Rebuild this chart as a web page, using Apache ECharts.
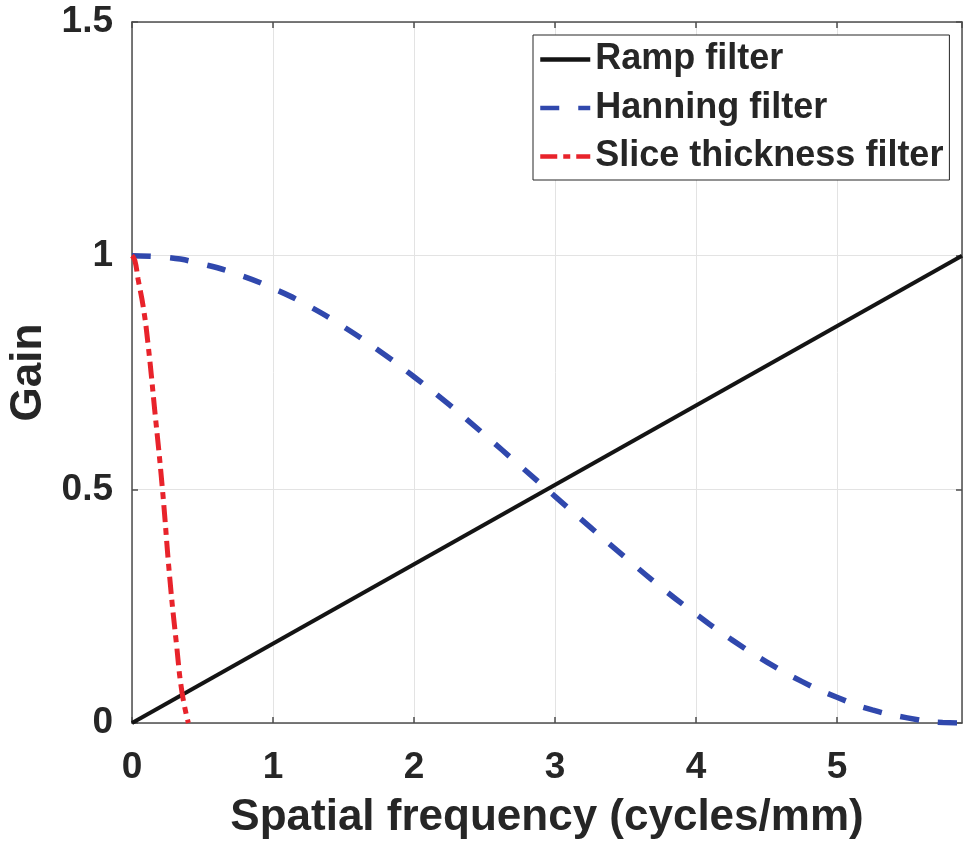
<!DOCTYPE html>
<html>
<head>
<meta charset="utf-8">
<script src="https://cdn.jsdelivr.net/npm/echarts@6/dist/echarts.min.js"></script>
<style>html,body{margin:0;padding:0;background:#fff}#c{width:964px;height:841px}</style>
</head>
<body>
<div id="c"></div>
<script>
// ---- data ----
const seriesNames = ['Ramp filter', 'Hanning filter', 'Slice thickness filter'];
const xMax = 5.887;
const xTicks = [0, 1, 2, 3, 4, 5];
const yTicks = [0, 0.5, 1, 1.5];

const rampX = [0, 5.887];
const rampY = [0, 1];

const hanningX = [0, 0.25, 0.5, 0.75, 1, 1.25, 1.5, 1.75, 2, 2.25, 2.5, 2.75, 3, 3.25, 3.5, 3.75, 4, 4.25, 4.5, 4.75, 5, 5.25, 5.5, 5.75, 5.887];
const hanningY = [1, 0.996, 0.982, 0.96, 0.93, 0.893, 0.848, 0.797, 0.741, 0.681, 0.617, 0.551, 0.485, 0.419, 0.354, 0.291, 0.233, 0.179, 0.131, 0.089, 0.055, 0.028, 0.011, 0.001, 0];

const sliceX = [0, 0.02, 0.043, 0.08, 0.114, 0.161, 0.216, 0.268, 0.315, 0.355, 0.40];
const sliceY = [1, 0.99, 0.95, 0.89, 0.81, 0.67, 0.5, 0.31, 0.17, 0.065, 0];

const pairs = (xs, ys) => xs.map((x, i) => [x, ys[i]]);

const FONT = "'Liberation Sans', Arial, sans-serif";
const TXT = '#262626';
const AX = '#4d4d4d';

const chart = echarts.init(document.getElementById('c'), null, {renderer: 'canvas'});
chart.setOption({
  animation: false,
  backgroundColor: '#fff',
  textStyle: {fontFamily: FONT},
  grid: {left: 132, top: 22, right: 2, bottom: 118, containLabel: false, outerBoundsMode: 'none'},
  legend: {
    orient: 'vertical',
    left: 533, top: 35,
    data: seriesNames,
    itemWidth: 50, itemHeight: 14, itemGap: 7.5,
    padding: [4, 6, 3, 5],
    backgroundColor: '#fff',
    borderColor: '#262626', borderWidth: 1,
    itemStyle: {opacity: 0},
    lineStyle: {width: 4.5},
    textStyle: {fontFamily: FONT, fontWeight: 'bold', fontSize: 36, color: TXT, lineHeight: 41}
  },
  xAxis: [{
    type: 'value', min: 0, max: xMax, interval: 1,
    name: 'Spatial frequency (cycles/mm)', nameLocation: 'middle', nameGap: 95,
    nameTextStyle: {fontFamily: FONT, fontWeight: 'bold', fontSize: 44, color: TXT, verticalAlign: 'middle'},
    axisLine: {show: true, onZero: false, lineStyle: {color: AX, width: 1.5}},
    axisTick: {show: true, inside: true, length: 6, lineStyle: {color: AX, width: 1.5}},
    axisLabel: {fontFamily: FONT, fontWeight: 'bold', fontSize: 37, color: TXT, margin: 26, showMaxLabel: false,
      formatter: v => xTicks.includes(v) ? String(v) : ''},
    splitLine: {show: true, lineStyle: {color: '#e3e3e3', width: 1}}
  }, {
    type: 'value', position: 'top', min: 0, max: xMax, interval: 1,
    axisLine: {show: true, onZero: false, lineStyle: {color: AX, width: 1.5}},
    axisTick: {show: true, inside: true, length: 6, lineStyle: {color: AX, width: 1.5}},
    axisLabel: {show: false}, splitLine: {show: false}
  }],
  yAxis: [{
    type: 'value', min: 0, max: 1.5, interval: 0.5,
    name: 'Gain', nameLocation: 'middle', nameGap: 99, nameRotate: 90,
    nameTextStyle: {fontFamily: FONT, fontWeight: 'bold', fontSize: 44, color: TXT, verticalAlign: 'middle'},
    axisLine: {show: true, onZero: false, lineStyle: {color: AX, width: 1.5}},
    axisTick: {show: true, inside: true, length: 6, lineStyle: {color: AX, width: 1.5}},
    axisLabel: {fontFamily: FONT, fontWeight: 'bold', fontSize: 37, color: TXT, margin: 19,
      formatter: v => yTicks.includes(v) ? String(v) : ''},
    splitLine: {show: true, lineStyle: {color: '#e3e3e3', width: 1}}
  }, {
    type: 'value', position: 'right', min: 0, max: 1.5, interval: 0.5,
    axisLine: {show: true, onZero: false, lineStyle: {color: AX, width: 1.5}},
    axisTick: {show: true, inside: true, length: 6, lineStyle: {color: AX, width: 1.5}},
    axisLabel: {show: false}, splitLine: {show: false}
  }],
  series: [{
    name: seriesNames[0], type: 'line', symbol: 'none', z: 3,
    data: pairs(rampX, rampY),
    lineStyle: {color: '#141414', width: 4, type: 'solid'},
    itemStyle: {color: '#141414'}
  }, {
    name: seriesNames[1], type: 'line', symbol: 'none', smooth: true, z: 4,
    data: pairs(hanningX, hanningY),
    lineStyle: {color: '#3048ad', width: 5.5, type: [19, 19]},
    itemStyle: {color: '#3048ad'}
  }, {
    name: seriesNames[2], type: 'line', symbol: 'none', smooth: true, z: 5,
    data: pairs(sliceX, sliceY),
    lineStyle: {color: '#e8232b', width: 5, type: [17, 6, 7, 6]},
    itemStyle: {color: '#e8232b'}
  }]
});
</script>
</body>
</html>
